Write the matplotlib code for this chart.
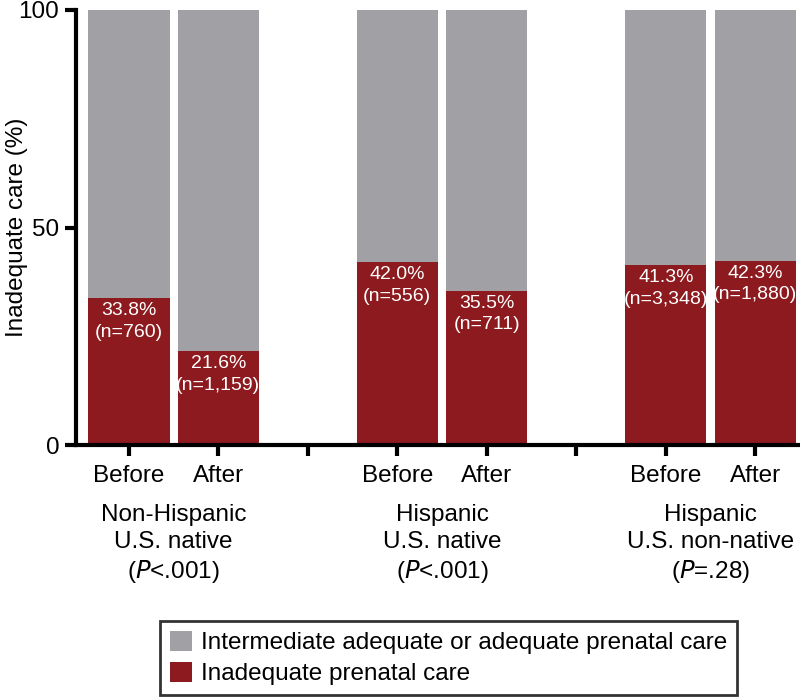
import matplotlib.pyplot as plt
import numpy as np

plt.rcParams["font.family"] = ["Liberation Sans", "DejaVu Sans"]

groups = ["Non-Hispanic\nU.S. native\n($\\it{P}$<.001)",
          "Hispanic\nU.S. native\n($\\it{P}$<.001)",
          "Hispanic\nU.S. non-native\n($\\it{P}$=.28)"]
periods = ["Before", "After"]
inadequate = [33.8, 21.6, 42.0, 35.5, 41.3, 42.3]
counts = ["760", "1,159", "556", "711", "3,348", "1,880"]

GRAY = "#a1a0a5"
RED = "#8d1a1e"

# bar slots: two per group, one empty slot between groups
pos = np.array([0, 1, 3, 4, 6, 7])
adequate = [100 - v for v in inadequate]

fig = plt.figure(figsize=(8, 7), dpi=100)
ax = fig.add_axes([0.095, 0.364, 0.905, 0.622])

ax.bar(pos, inadequate, width=0.91, color=RED, label="Inadequate prenatal care")
ax.bar(pos, adequate, width=0.91, bottom=inadequate, color=GRAY,
       label="Intermediate adequate or adequate prenatal care")

for x, v, n in zip(pos, inadequate, counts):
    ax.text(x, v - 0.9, f"{v:.1f}%\n(n={n})", ha="center", va="top",
            color="white", fontsize=14, linespacing=1.35)

ax.set_xlim(-0.59, 7.5)
ax.set_ylim(0, 100)
ax.set_yticks([0, 50, 100])
ax.set_xticks([0, 1, 2, 3, 4, 5, 6, 7])
ax.set_xticklabels(periods + [""] + periods + [""] + periods)
ax.tick_params(axis="both", length=8, width=3, labelsize=17.5, colors="black", pad=4)
ax.tick_params(axis="x", pad=6)
ax.set_ylabel("Inadequate care (%)", fontsize=17.5)
ax.yaxis.set_label_coords(-0.066, 0.5)

for side in ["top", "right"]:
    ax.spines[side].set_visible(False)
for side in ["left", "bottom"]:
    ax.spines[side].set_linewidth(3)

for i, g in enumerate(groups):
    ax.text(pos[2 * i] + 0.5, -13.6, g, ha="center", va="top", fontsize=17.5,
            linespacing=1.27, clip_on=False)

handles, labels = ax.get_legend_handles_labels()
leg = fig.legend(handles[::-1], labels[::-1], loc="center",
                 bbox_to_anchor=(0.561, 0.06), fontsize=17.5, frameon=True,
                 fancybox=False, edgecolor="black", handlelength=0.9,
                 handleheight=0.9, labelspacing=0.3, handletextpad=0.4,
                 borderpad=0.4, borderaxespad=0)
leg.get_frame().set_linewidth(2)

fig.savefig("out.png", dpi=100)
